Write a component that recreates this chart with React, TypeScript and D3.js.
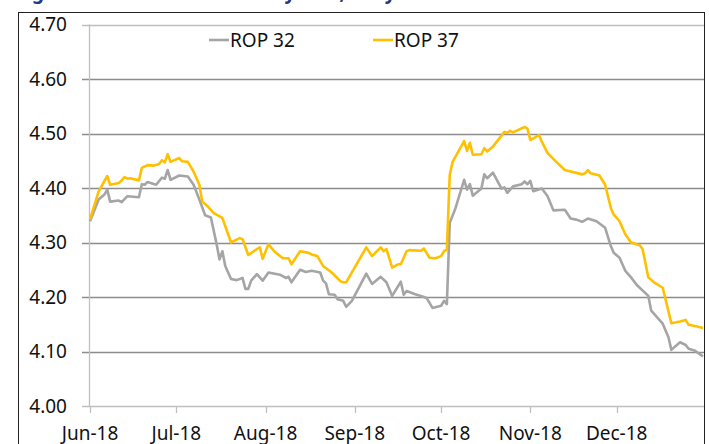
import React from "react";
import * as d3 from "d3";

const width = 709;
const height = 444;

const seriesNames = ["ROP 32", "ROP 37"];
const seriesColors = ["#A5A5A5", "#FFC000"];

const rop32: [string, number][] = [
  ["2018-06-01", 4.339], ["2018-06-04", 4.379], ["2018-06-06", 4.388], ["2018-06-07", 4.397],
  ["2018-06-08", 4.375], ["2018-06-11", 4.377], ["2018-06-12", 4.374], ["2018-06-14", 4.385],
  ["2018-06-18", 4.383], ["2018-06-19", 4.407], ["2018-06-20", 4.406], ["2018-06-21", 4.411],
  ["2018-06-24", 4.406], ["2018-06-26", 4.419], ["2018-06-27", 4.417], ["2018-06-28", 4.433],
  ["2018-06-29", 4.415], ["2018-07-02", 4.423], ["2018-07-05", 4.421], ["2018-07-07", 4.406],
  ["2018-07-09", 4.379], ["2018-07-11", 4.35], ["2018-07-13", 4.346], ["2018-07-15", 4.297],
  ["2018-07-16", 4.269], ["2018-07-17", 4.284], ["2018-07-18", 4.257], ["2018-07-20", 4.233],
  ["2018-07-22", 4.231], ["2018-07-24", 4.235], ["2018-07-25", 4.215], ["2018-07-26", 4.215],
  ["2018-07-27", 4.23], ["2018-07-29", 4.242], ["2018-07-31", 4.23], ["2018-08-02", 4.245],
  ["2018-08-06", 4.241], ["2018-08-08", 4.235], ["2018-08-09", 4.237], ["2018-08-10", 4.227],
  ["2018-08-13", 4.25], ["2018-08-15", 4.246], ["2018-08-17", 4.248], ["2018-08-20", 4.245],
  ["2018-08-21", 4.23], ["2018-08-22", 4.225], ["2018-08-23", 4.205], ["2018-08-25", 4.204],
  ["2018-08-26", 4.196], ["2018-08-28", 4.193], ["2018-08-29", 4.182], ["2018-08-31", 4.193],
  ["2018-09-05", 4.243], ["2018-09-07", 4.224], ["2018-09-10", 4.237], ["2018-09-12", 4.227],
  ["2018-09-14", 4.202], ["2018-09-17", 4.228], ["2018-09-18", 4.204], ["2018-09-19", 4.211],
  ["2018-09-22", 4.205], ["2018-09-24", 4.202], ["2018-09-26", 4.198], ["2018-09-28", 4.18],
  ["2018-10-01", 4.184], ["2018-10-02", 4.193], ["2018-10-03", 4.187], ["2018-10-04", 4.336],
  ["2018-10-06", 4.363], ["2018-10-09", 4.415], ["2018-10-10", 4.397], ["2018-10-11", 4.407],
  ["2018-10-12", 4.386], ["2018-10-15", 4.399], ["2018-10-16", 4.425], ["2018-10-17", 4.418],
  ["2018-10-19", 4.428], ["2018-10-22", 4.399], ["2018-10-23", 4.401], ["2018-10-24", 4.391],
  ["2018-10-26", 4.403], ["2018-10-29", 4.407], ["2018-10-30", 4.412], ["2018-10-31", 4.407],
  ["2018-11-01", 4.413], ["2018-11-02", 4.394], ["2018-11-05", 4.399], ["2018-11-07", 4.385],
  ["2018-11-09", 4.359], ["2018-11-13", 4.36], ["2018-11-15", 4.344], ["2018-11-17", 4.342],
  ["2018-11-19", 4.338], ["2018-11-21", 4.344], ["2018-11-24", 4.339], ["2018-11-27", 4.327],
  ["2018-11-29", 4.293], ["2018-11-30", 4.281], ["2018-12-02", 4.272], ["2018-12-04", 4.248],
  ["2018-12-06", 4.236], ["2018-12-08", 4.222], ["2018-12-12", 4.202], ["2018-12-13", 4.175],
  ["2018-12-14", 4.169], ["2018-12-17", 4.151], ["2018-12-19", 4.126], ["2018-12-20", 4.103],
  ["2018-12-23", 4.117], ["2018-12-25", 4.112], ["2018-12-26", 4.105], ["2018-12-28", 4.102],
  ["2018-12-31", 4.091]
];

const rop37: [string, number][] = [
  ["2018-06-01", 4.342], ["2018-06-04", 4.394], ["2018-06-07", 4.422], ["2018-06-08", 4.406],
  ["2018-06-11", 4.409], ["2018-06-12", 4.414], ["2018-06-13", 4.42], ["2018-06-14", 4.417],
  ["2018-06-15", 4.418], ["2018-06-18", 4.414], ["2018-06-19", 4.437], ["2018-06-21", 4.442],
  ["2018-06-23", 4.441], ["2018-06-25", 4.444], ["2018-06-26", 4.451], ["2018-06-27", 4.447],
  ["2018-06-28", 4.462], ["2018-06-29", 4.448], ["2018-07-02", 4.455], ["2018-07-03", 4.449],
  ["2018-07-05", 4.448], ["2018-07-07", 4.43], ["2018-07-09", 4.406], ["2018-07-10", 4.375],
  ["2018-07-12", 4.366], ["2018-07-14", 4.354], ["2018-07-17", 4.345], ["2018-07-20", 4.3],
  ["2018-07-23", 4.308], ["2018-07-24", 4.306], ["2018-07-26", 4.277], ["2018-07-29", 4.288],
  ["2018-07-30", 4.291], ["2018-07-31", 4.27], ["2018-08-02", 4.297], ["2018-08-04", 4.284],
  ["2018-08-07", 4.271], ["2018-08-09", 4.271], ["2018-08-10", 4.26], ["2018-08-13", 4.284],
  ["2018-08-16", 4.281], ["2018-08-17", 4.278], ["2018-08-19", 4.275], ["2018-08-21", 4.257],
  ["2018-08-24", 4.245], ["2018-08-27", 4.229], ["2018-08-28", 4.227], ["2018-08-29", 4.227],
  ["2018-09-05", 4.291], ["2018-09-07", 4.275], ["2018-09-10", 4.291], ["2018-09-11", 4.284],
  ["2018-09-12", 4.288], ["2018-09-14", 4.254], ["2018-09-16", 4.26], ["2018-09-17", 4.26],
  ["2018-09-19", 4.284], ["2018-09-20", 4.286], ["2018-09-24", 4.285], ["2018-09-25", 4.289],
  ["2018-09-27", 4.272], ["2018-09-29", 4.271], ["2018-10-01", 4.275], ["2018-10-02", 4.284],
  ["2018-10-03", 4.287], ["2018-10-04", 4.424], ["2018-10-05", 4.448], ["2018-10-09", 4.486],
  ["2018-10-10", 4.468], ["2018-10-11", 4.483], ["2018-10-12", 4.461], ["2018-10-15", 4.462],
  ["2018-10-16", 4.473], ["2018-10-17", 4.467], ["2018-10-19", 4.476], ["2018-10-22", 4.496],
  ["2018-10-23", 4.503], ["2018-10-24", 4.501], ["2018-10-25", 4.505], ["2018-10-26", 4.502],
  ["2018-10-30", 4.512], ["2018-10-31", 4.509], ["2018-11-01", 4.488], ["2018-11-04", 4.497],
  ["2018-11-05", 4.485], ["2018-11-07", 4.464], ["2018-11-10", 4.448], ["2018-11-13", 4.433],
  ["2018-11-19", 4.425], ["2018-11-20", 4.427], ["2018-11-21", 4.433], ["2018-11-22", 4.427],
  ["2018-11-25", 4.423], ["2018-11-27", 4.406], ["2018-11-29", 4.363], ["2018-11-30", 4.351],
  ["2018-12-02", 4.339], ["2018-12-04", 4.315], ["2018-12-06", 4.3], ["2018-12-09", 4.295],
  ["2018-12-10", 4.288], ["2018-12-12", 4.236], ["2018-12-14", 4.227], ["2018-12-17", 4.217],
  ["2018-12-20", 4.152], ["2018-12-23", 4.155], ["2018-12-25", 4.158], ["2018-12-26", 4.149],
  ["2018-12-29", 4.146], ["2018-12-31", 4.143]
];

const yTicks = [4.0, 4.1, 4.2, 4.3, 4.4, 4.5, 4.6, 4.7];
const xTickLabels = ["Jun-18", "Jul-18", "Aug-18", "Sep-18", "Oct-18", "Nov-18", "Dec-18"];

const font = "'Noto Sans', 'Open Sans', sans-serif";
const parse = d3.timeParse("%Y-%m-%d");
const fmtTick = d3.timeFormat("%b-%y");

export default function App() {
  const x = d3
    .scaleTime()
    .domain([parse("2018-06-01")!, parse("2018-12-31")!])
    .range([90, 703]);
  const y = d3.scaleLinear().domain([4.0, 4.7]).range([406, 24.5]);

  const line = d3
    .line<[string, number]>()
    .x((d) => x(parse(d[0])!))
    .y((d) => y(d[1]));

  const monthTicks = x.ticks(d3.timeMonth.every(1)!).filter((d) => xTickLabels.includes(fmtTick(d)));
  const series = [rop32, rop37];

  return (
    <svg width={width} height={height} style={{ position: "absolute", left: 0, top: 0, background: "#fff" }}>
      {/* title sits mostly above the crop, only descenders show */}
      <text x={16} y={-1} fontFamily={font} fontWeight="bold" fontSize={19} fill="#1F3A8A">
        Figure 4: ROP 32 and ROP 37 yields, daily
      </text>
      <rect x={18.5} y={12.5} width={686} height={460} fill="none" stroke="#222" strokeWidth={1} />

      {/* gridlines + y labels */}
      {yTicks.map((t) => (
        <g key={t}>
          <line x1={82} x2={704} y1={Math.round(y(t)) + 0.5} y2={Math.round(y(t)) + 0.5}
            stroke={t === 4.7 || t === 4.0 ? "#BFBFBF" : "#8C8C8C"} strokeWidth={1.3} />
          <text x={67} y={y(t)} dy="0.35em" textAnchor="end" fontFamily={font} fontSize={19} fill="#111">
            {t.toFixed(2)}
          </text>
        </g>
      ))}
      <line x1={89.5} x2={89.5} y1={y(4.7)} y2={y(4.0)} stroke="#BFBFBF" strokeWidth={1.3} />

      {/* x ticks */}
      {monthTicks.map((d) => (
        <g key={+d}>
          <line x1={Math.round(x(d)) + 0.5} x2={Math.round(x(d)) + 0.5} y1={y(4.0)} y2={y(4.0) + 7} stroke="#BFBFBF" strokeWidth={1.3} />
          <text x={x(d)} y={440} textAnchor="middle" fontFamily={font} fontSize={19} fill="#111">
            {fmtTick(d)}
          </text>
        </g>
      ))}

      {series.map((s, i) => (
        <path key={i} d={line(s)!} fill="none" stroke={seriesColors[i]} strokeWidth={2.6} strokeLinejoin="round" />
      ))}

      {/* legend */}
      {seriesNames.map((name, i) => (
        <g key={name} transform={`translate(${[209, 373][i]}, 40)`}>
          <line x1={0} x2={20} y1={0} y2={0} stroke={seriesColors[i]} strokeWidth={2.6} />
          <text x={21} y={0} dy="0.35em" fontFamily={font} fontSize={19} fill="#111">
            {name}
          </text>
        </g>
      ))}
    </svg>
  );
}
